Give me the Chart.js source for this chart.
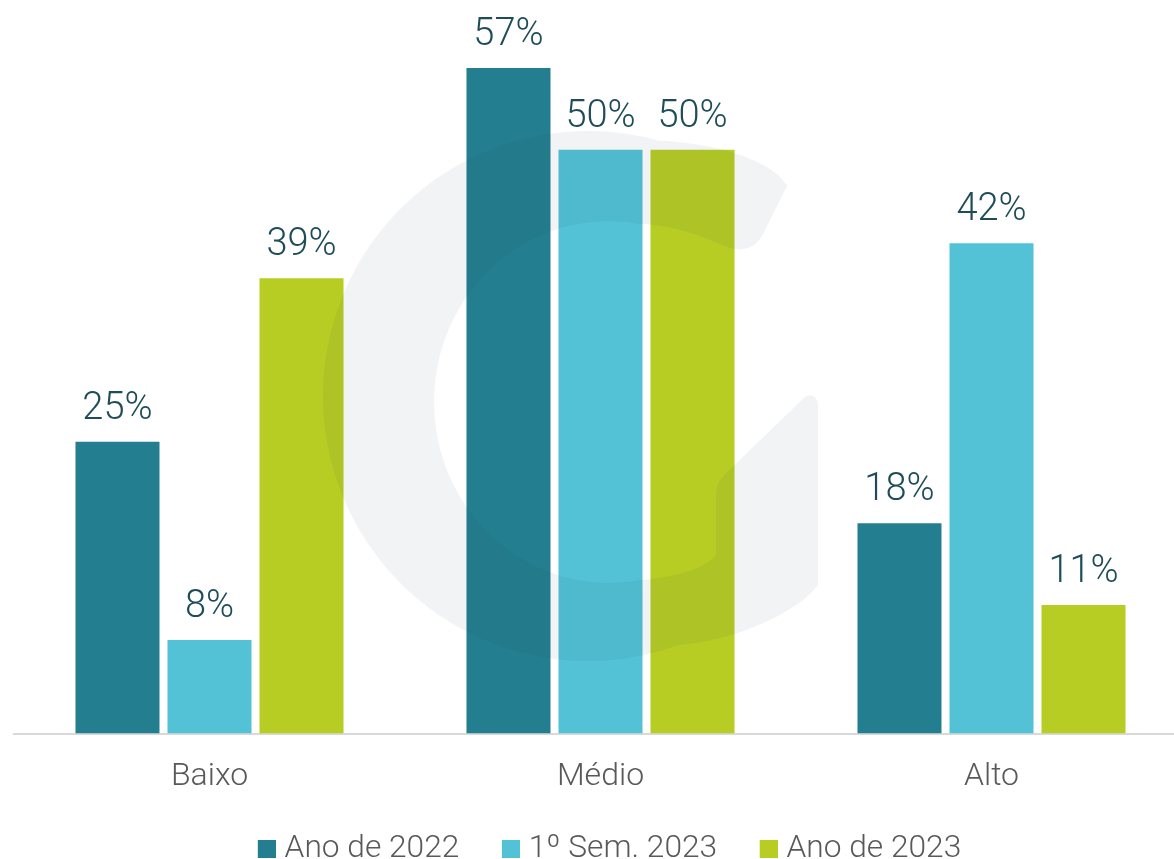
<!DOCTYPE html>
<html>
<head>
<meta charset="utf-8">
<script src="https://cdn.jsdelivr.net/npm/chart.js@4.4.1/dist/chart.umd.min.js"></script>
<style>
  html, body { margin: 0; padding: 0; background: #ffffff; overflow: hidden; }
  #wrap { position: relative; width: 1187px; height: 875px; }
</style>
</head>
<body>
<div id="wrap"><canvas id="c"></canvas></div>
<script>
// ---- data ----
const categories = ['Baixo', 'Médio', 'Alto'];
const seriesNames = ['Ano de 2022', '1º Sem. 2023', 'Ano de 2023'];
const ano2022 = [25, 57, 18];
const sem2023 = [8, 50, 42];
const ano2023 = [39, 50, 11];
const colors = ['#237F8F', '#53C2D6', '#B7CD24'];

const FONT = 'Roboto, "Open Sans", sans-serif';
const LEGEND_PSW = 17;
const LEGEND_SHIFT = 6;

function makeBox(color) {
  const c = document.createElement('canvas');
  c.width = LEGEND_PSW + 14;
  c.height = 18;
  const g = c.getContext('2d');
  g.fillStyle = color;
  g.fillRect(c.width - 18, 0, 18, 18);
  return c;
}

const overlayPlugin = {
  id: 'overlay',
  afterLayout(chart) {
    if (chart.legend) {
      chart.legend.left += LEGEND_SHIFT;
      chart.legend.right += LEGEND_SHIFT;
    }
  },
  afterDatasetsDraw(chart) {
    const ctx = chart.ctx;
    const d = Math.PI / 180;
    // faint watermark logo
    ctx.save();
    ctx.beginPath();
    ctx.moveTo(785, 183);
    ctx.bezierCurveTo(772, 162, 720, 143, 656.6, 140.4);
    ctx.arc(588, 396, 265, -75 * d, 70 * d, true);
    ctx.bezierCurveTo(740, 640, 800, 610, 818, 585);
    ctx.lineTo(818, 405);
    ctx.quadraticCurveTo(817, 393, 806, 396);
    ctx.lineTo(724, 475);
    ctx.quadraticCurveTo(716, 483, 716, 495);
    ctx.lineTo(716, 555);
    ctx.quadraticCurveTo(700, 575, 639.4, 580.2);
    ctx.ellipse(609, 402, 175, 181, 0, 80 * d, 280 * d, false);
    ctx.bezierCurveTo(680, 226, 705, 238, 730, 248);
    ctx.quadraticCurveTo(755, 255, 766, 228);
    ctx.lineTo(785, 190);
    ctx.quadraticCurveTo(789, 185, 785, 183);
    ctx.closePath();
    ctx.fillStyle = 'rgba(20,40,70,0.055)';
    ctx.fill();
    ctx.restore();

    // value labels
    ctx.save();
    ctx.font = '300 38px ' + FONT;
    ctx.fillStyle = '#1E4D59';
    ctx.textAlign = 'center';
    ctx.textBaseline = 'alphabetic';
    chart.data.datasets.forEach((ds, i) => {
      const meta = chart.getDatasetMeta(i);
      meta.data.forEach((bar, j) => {
        ctx.fillText(ds.data[j] + '%', bar.x, bar.y - 23);
      });
    });
    ctx.restore();
  }
};

new Chart(document.getElementById('c'), {
  type: 'bar',
  data: {
    labels: categories,
    datasets: [
      { label: seriesNames[0], data: ano2022, backgroundColor: colors[0] },
      { label: seriesNames[1], data: sem2023, backgroundColor: colors[1] },
      { label: seriesNames[2], data: ano2023, backgroundColor: colors[2] }
    ]
  },
  options: {
    responsive: true,
    maintainAspectRatio: false,
    animation: false,
    events: [],
    categoryPercentage: 0.706,
    barPercentage: 0.913,
    layout: { padding: { left: 14, right: 0, top: 33, bottom: 0 } },
    scales: {
      x: {
        grid: { display: false, drawTicks: false },
        border: { display: true, color: '#D9D9D9', width: 2 },
        ticks: { color: '#595959', font: { family: FONT, size: 32, weight: 300 }, padding: 24 },
        afterFit(scale) { scale.height = 63.3; }
      },
      y: {
        display: false,
        min: 0,
        max: 60
      }
    },
    plugins: {
      tooltip: { enabled: false },
      legend: {
        position: 'bottom',
        labels: {
          color: '#595959',
          font: { family: FONT, size: 31.7, weight: 300 },
          usePointStyle: true,
          pointStyleWidth: LEGEND_PSW,
          padding: 36.5,
          generateLabels(chart) {
            const items = Chart.defaults.plugins.legend.labels.generateLabels(chart);
            items.forEach((it, i) => { it.pointStyle = makeBox(colors[i]); });
            return items;
          }
        }
      }
    }
  },
  plugins: [overlayPlugin]
});
</script>
</body>
</html>
